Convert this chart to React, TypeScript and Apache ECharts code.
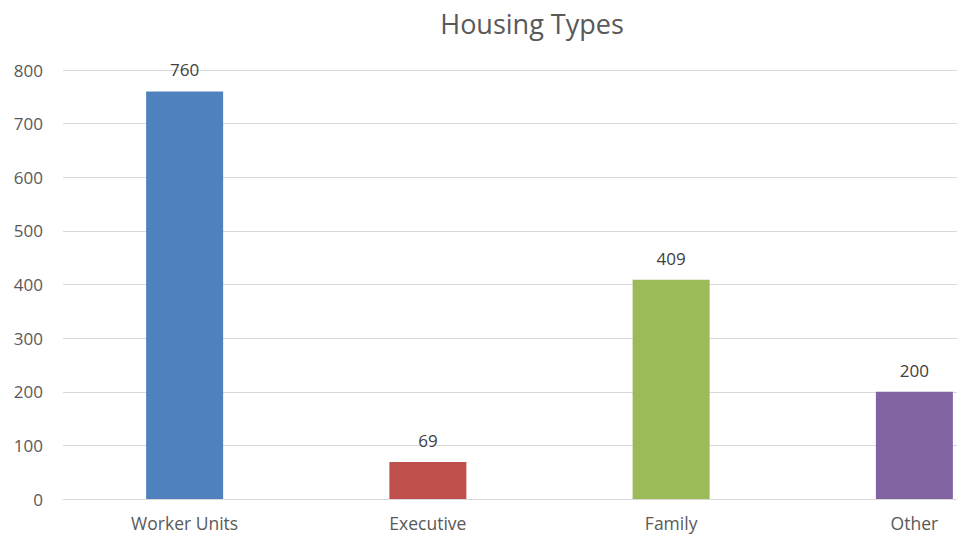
import React, { useEffect, useRef } from "react";
import * as echarts from "echarts";

const categories = ["Worker Units", "Executive", "Family", "Other"];
const values = [760, 69, 409, 200];
const barColors = ["#4F81BD", "#C0504D", "#9BBB59", "#8064A2"];
const yTicks = [0, 100, 200, 300, 400, 500, 600, 700, 800];

export default function App() {
  const ref = useRef<HTMLDivElement>(null);
  useEffect(() => {
    if (!ref.current) return;
    const chart = echarts.init(ref.current, undefined, { renderer: "svg" });
    const font = "'Open Sans', 'Liberation Sans', sans-serif";
    chart.setOption({
      animation: false,
      backgroundColor: "#ffffff",
      title: {
        text: "Housing Types",
        left: 527,
        top: 5,
        textAlign: "center",
        textStyle: { fontFamily: font, fontSize: 27, fontWeight: "normal", color: "#595959" },
      },
      grid: { left: 63, right: 4, top: 70, bottom: 37, containLabel: false },
      xAxis: {
        type: "category",
        data: categories,
        axisLine: { show: true, lineStyle: { color: "#d9d9d9", width: 1 } },
        axisTick: { show: false },
        axisLabel: { fontFamily: font, fontSize: 17.5, color: "#595959", margin: 15 },
      },
      yAxis: {
        type: "value",
        min: yTicks[0],
        max: yTicks[yTicks.length - 1],
        interval: 100,
        axisLine: { show: false },
        axisTick: { show: false },
        splitLine: { lineStyle: { color: "#d9d9d9", width: 1 } },
        axisLabel: { fontFamily: font, fontSize: 17, color: "#595959", margin: 20 },
      },
      series: [
        {
          type: "bar",
          data: values.map((v, i) => ({ value: v, itemStyle: { color: barColors[i] } })),
          barWidth: 77,
          label: {
            show: true,
            position: "top",
            distance: 13,
            fontFamily: font,
            fontSize: 17,
            color: "#404040",
          },
        },
      ],
    });
    return () => chart.dispose();
  }, []);
  return (
    <div style={{ position: "fixed", left: 0, top: 0, width: 957, height: 536, overflow: "hidden" }}>
      <div ref={ref} style={{ width: 1040, height: 536 }} />
    </div>
  );
}
